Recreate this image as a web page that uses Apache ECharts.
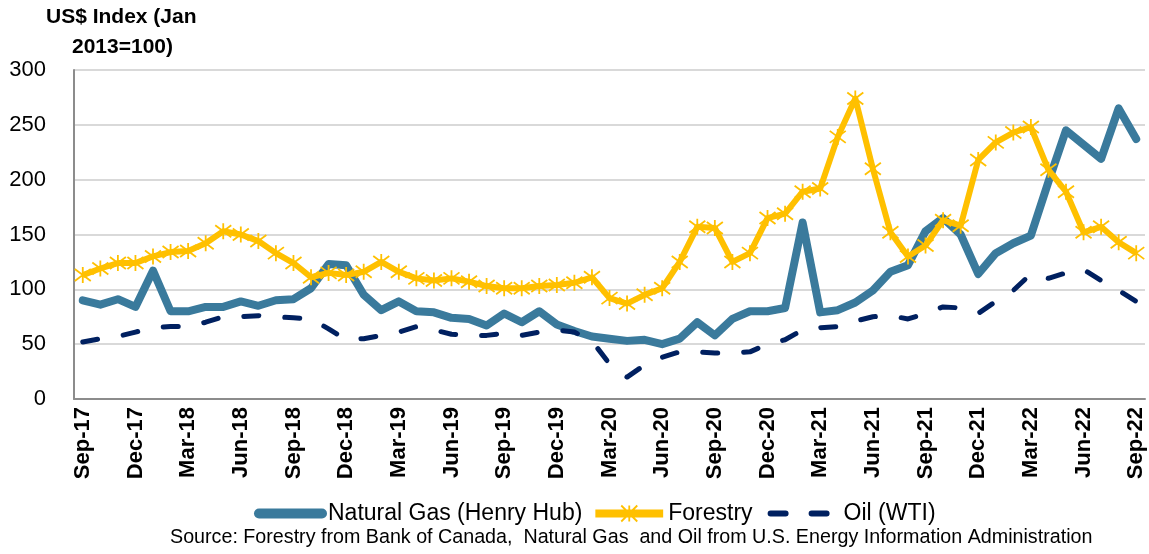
<!DOCTYPE html>
<html>
<head>
<meta charset="utf-8">
<script src="https://cdn.jsdelivr.net/npm/echarts@6/dist/echarts.min.js"></script>
<style>
html,body{margin:0;padding:0;background:#fff;}
#chart{width:1149px;height:554px;}
</style>
</head>
<body>
<div id="chart"></div>
<script>
const categories = ['Sep-17','Oct-17','Nov-17','Dec-17','Jan-18','Feb-18','Mar-18','Apr-18','May-18','Jun-18','Jul-18','Aug-18','Sep-18','Oct-18','Nov-18','Dec-18','Jan-19','Feb-19','Mar-19','Apr-19','May-19','Jun-19','Jul-19','Aug-19','Sep-19','Oct-19','Nov-19','Dec-19','Jan-20','Feb-20','Mar-20','Apr-20','May-20','Jun-20','Jul-20','Aug-20','Sep-20','Oct-20','Nov-20','Dec-20','Jan-21','Feb-21','Mar-21','Apr-21','May-21','Jun-21','Jul-21','Aug-21','Sep-21','Oct-21','Nov-21','Dec-21','Jan-22','Feb-22','Mar-22','Apr-22','May-22','Jun-22','Jul-22','Aug-22','Sep-22'];

const naturalGas = [90,86,91,84,117,80,80,84,84,89,85,90,91,101,123,122,95,81,89,80,79,74,73,67,78,70,80,68,62,57,55,53,54,50,55,70,58,73,80,80,83,161,79,81,88,99,116,122,153,165,150,114,133,142,149,198,245,232,219,265,237];

const forestry = [113,119,124,124,130,134,135,142,153,150,144,133,124,111,115,113,116,125,116,110,108,110,107,103,101,101,103,104,106,111,92,87,95,101,125,157,156,125,133,165,169,189,192,239,274,210,152,130,140,163,158,218,234,243,248,209,189,152,157,143,133];

const oil = [52,55,57,61,65,66,66,70,75,75,76,75,74,73,64,54,55,58,61,66,63,59,58,58,60,58,61,63,61,53,32,20,31,38,43,43,42,42,43,50,54,63,65,66,71,75,76,73,78,84,83,78,89,99,114,110,115,118,108,99,89];

const seriesNames = ['Natural Gas (Henry Hub)', 'Forestry', 'Oil (WTI)'];
const yTitleLines = ['US$ Index (Jan', '2013=100)'];
const sourceText = 'Source: Forestry from Bank of Canada,  Natural Gas  and Oil from U.S. Energy Information Administration';

const FONT = '"Liberation Sans", Arial, sans-serif';
const GAS = '#3a7a9c', FOR = '#ffc000', OIL = '#002060';
const starPath = 'path://M2 2L14 14M14 2L2 14M8 0L8 16';

// legend icons, 73x16 boxes (degenerate points fix the bounding box)
const box = 'M0,0L0,0M73,16L73,16';
const gasIcon = 'path://' + box + 'M5,3L68,3A5,5 0 0 1 68,13L5,13A5,5 0 0 1 5,3Z';
const forIcon = 'path://' + box + 'M0,5L66,5L66,11L0,11ZM25,0L41,16M41,0L25,16M33,0L33,16';
const oilIcon = 'path://' + box + 'M5,5L20,5A3,3 0 0 1 20,11L5,11A3,3 0 0 1 5,5ZM46,5L61,5A3,3 0 0 1 61,11L46,11A3,3 0 0 1 46,5Z';

const chart = echarts.init(document.getElementById('chart'), null, {renderer: 'canvas'});
chart.setOption({
  animation: false,
  backgroundColor: '#ffffff',
  grid: {left: 74, right: 4, top: 70, bottom: 155, containLabel: false},
  xAxis: {
    type: 'category',
    data: categories,
    boundaryGap: true,
    axisLine: {show: true, lineStyle: {color: '#8c8c8c', width: 2}},
    axisTick: {show: false},
    axisLabel: {
      interval: 2,
      rotate: 90,
      margin: 8,
      color: '#000',
      fontFamily: FONT,
      fontWeight: 'bold',
      fontSize: 22
    },
    splitLine: {show: false}
  },
  yAxis: {
    type: 'value',
    min: 0,
    max: 300,
    interval: 50,
    axisLine: {show: true, lineStyle: {color: '#8c8c8c', width: 2}},
    axisTick: {show: false},
    axisLabel: {color: '#000', fontFamily: FONT, fontSize: 22, margin: 28},
    splitLine: {show: true, lineStyle: {color: '#d9d9d9', width: 2}}
  },
  legend: {
    top: 497,
    left: 249,
    itemWidth: 73,
    itemHeight: 16,
    itemGap: 13,
    textStyle: {color: '#000', fontFamily: FONT, fontSize: 23},
    data: [
      {name: seriesNames[0], icon: gasIcon, itemStyle: {color: GAS, borderWidth: 0}, textStyle: {padding: [0, 0, 0, -4]}},
      {name: seriesNames[1], icon: forIcon, itemStyle: {color: FOR, borderColor: FOR, borderWidth: 1.8}, textStyle: {padding: [0, 0, 0, -6]}},
      {name: seriesNames[2], icon: oilIcon, itemStyle: {color: OIL, borderWidth: 0}, textStyle: {padding: [0, 0, 0, 0]}}
    ]
  },
  graphic: [
    {type: 'text', left: 46, top: 7, style: {text: yTitleLines[0], font: 'bold 21px ' + FONT, fill: '#000'}},
    {type: 'text', left: 72, top: 37, style: {text: yTitleLines[1], font: 'bold 21px ' + FONT, fill: '#000'}},
    {type: 'text', left: 170, top: 528, style: {text: sourceText, font: '19.7px ' + FONT, fill: '#000'}}
  ],
  series: [
    {
      name: seriesNames[0],
      type: 'line',
      data: naturalGas,
      symbol: 'none',
      lineStyle: {color: GAS, width: 8, cap: 'round', join: 'round'},
      itemStyle: {color: GAS},
      z: 2
    },
    {
      name: seriesNames[1],
      type: 'line',
      data: forestry,
      symbol: starPath,
      symbolSize: 16,
      showSymbol: true,
      showAllSymbol: true,
      lineStyle: {color: FOR, width: 6, join: 'round'},
      itemStyle: {color: 'rgba(0,0,0,0)', borderColor: FOR, borderWidth: 1.8},
      z: 3
    },
    {
      name: seriesNames[2],
      type: 'line',
      data: oil,
      symbol: 'none',
      lineStyle: {color: OIL, width: 5, type: [15, 26], cap: 'round', join: 'round'},
      itemStyle: {color: OIL},
      z: 4
    }
  ]
});
</script>
</body>
</html>
